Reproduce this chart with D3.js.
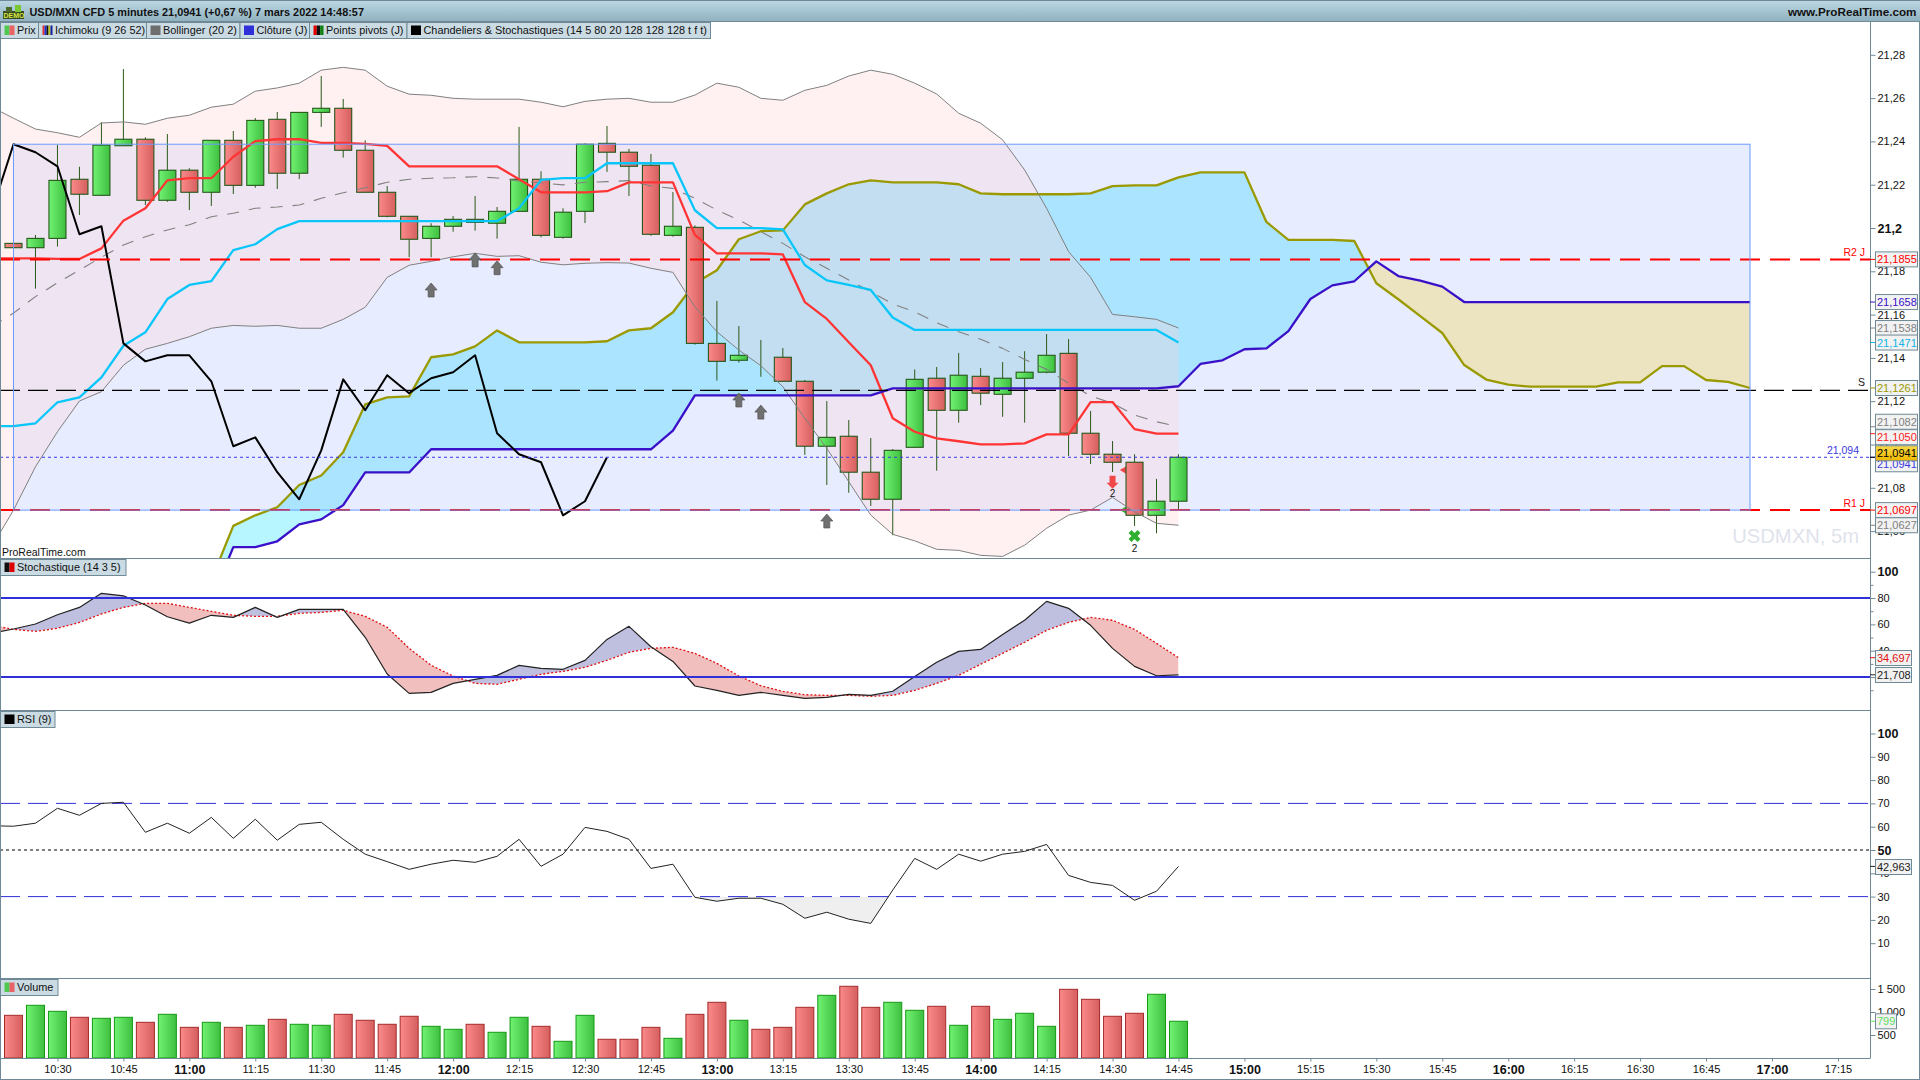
<!DOCTYPE html>
<html lang="fr">
<head>
<meta charset="UTF-8">
<title>USD/MXN CFD 5 minutes</title>
<script src="https://d3js.org/d3.v7.min.js"></script>
<style>
  html, body { margin: 0; padding: 0; background: #fff; overflow: hidden; }
  svg { display: block; font-family: "Liberation Sans", Arial, sans-serif; }
  .axis text { font-size: 11px; fill: #111; font-family: "Liberation Sans", Arial, sans-serif; }
  .axis line { stroke: #6f8a96; }
  .axis path { display: none; }
  .axis text.major { font-weight: bold; font-size: 12.5px; }
</style>
</head>
<body>
<script>
// candles, index 0 = 10:20, one bar every 5 minutes
const opens = [21.1929,21.1909,21.1952,21.2225,21.2151,21.2380,21.2410,21.2128,21.2267,21.2165,21.2405,21.2197,21.2502,21.2253,21.2534,21.2553,21.2359,21.2165,21.2054,21.1952,21.2008,21.2040,21.2022,21.2077,21.2225,21.1957,21.2077,21.2391,21.2350,21.2290,21.1966,21.2003,21.1467,21.1389,21.1412,21.1403,21.1292,21.0992,21.1038,21.0872,21.0747,21.0987,21.1306,21.1158,21.1315,21.1232,21.1306,21.1334,21.1421,21.1052,21.0955,21.0918,21.0673,21.0738];
const highs = [21.1929,21.1968,21.2383,21.2283,21.2488,21.2734,21.2419,21.2434,21.2276,21.2405,21.2448,21.2508,21.2536,21.2534,21.2702,21.2596,21.2405,21.2194,21.2054,21.2022,21.2055,21.2148,21.2097,21.2467,21.2262,21.2091,21.2391,21.2471,21.2365,21.2342,21.2166,21.2012,21.1663,21.1547,21.1483,21.1446,21.1298,21.1201,21.1113,21.1030,21.0979,21.1347,21.1358,21.1423,21.1353,21.1381,21.1431,21.1510,21.1487,21.1155,21.1016,21.0955,21.0841,21.0955];
const lows = [21.1909,21.1720,21.1914,21.2060,21.2151,21.2380,21.2106,21.2121,21.2083,21.2102,21.2157,21.2186,21.2180,21.2226,21.2467,21.2325,21.2165,21.2049,21.1865,21.1865,21.1983,21.1988,21.1951,21.2077,21.1957,21.1951,21.2023,21.2259,21.2148,21.1964,21.1960,21.1461,21.1295,21.1378,21.1313,21.1292,21.0952,21.0813,21.0777,21.0716,21.0581,21.0987,21.0879,21.1101,21.1182,21.1128,21.1101,21.1329,21.0947,21.0910,21.0873,21.0624,21.0590,21.0701];
const closes = [21.1909,21.1952,21.2220,21.2156,21.2383,21.2410,21.2128,21.2267,21.2165,21.2405,21.2197,21.2497,21.2253,21.2534,21.2553,21.2359,21.2165,21.2054,21.1948,21.2008,21.2040,21.2026,21.2077,21.2225,21.1966,21.2073,21.2387,21.2350,21.2285,21.1971,21.2008,21.1467,21.1384,21.1412,21.1412,21.1292,21.0992,21.1033,21.0872,21.0747,21.0973,21.1301,21.1158,21.1320,21.1237,21.1306,21.1334,21.1412,21.1052,21.0955,21.0918,21.0673,21.0738,21.0941];

// these start one bar before the first candle, off the left edge
const tenkan = [21.1860,21.1860,21.1860,21.1857,21.1857,21.1906,21.2034,21.2091,21.2220,21.2230,21.2230,21.2329,21.2401,21.2410,21.2410,21.2393,21.2393,21.2389,21.2379,21.2285,21.2285,21.2285,21.2285,21.2285,21.2225,21.2165,21.2165,21.2165,21.2170,21.2211,21.2211,21.2211,21.1968,21.1883,21.1883,21.1883,21.1878,21.1658,21.1580,21.1472,21.1366,21.1121,21.1059,21.1028,21.1015,21.1001,21.1001,21.1005,21.1047,21.1047,21.1196,21.1196,21.1071,21.1050,21.1050];
const kijun = [21.1085,21.1085,21.1098,21.1195,21.1218,21.1310,21.1456,21.1518,21.1672,21.1737,21.1755,21.1898,21.1925,21.1995,21.2032,21.2032,21.2032,21.2032,21.2032,21.2032,21.2032,21.2032,21.2032,21.2032,21.2091,21.2222,21.2230,21.2230,21.2299,21.2299,21.2299,21.2299,21.2082,21.1999,21.1999,21.1999,21.1994,21.1829,21.1758,21.1737,21.1714,21.1587,21.1529,21.1529,21.1529,21.1529,21.1529,21.1529,21.1529,21.1529,21.1529,21.1529,21.1529,21.1529,21.1471];
const chikou = [21.2073,21.2387,21.2350,21.2285,21.1971,21.2008,21.1467,21.1384,21.1412,21.1412,21.1292,21.0992,21.1033,21.0872,21.0747,21.0973,21.1301,21.1158,21.1320,21.1237,21.1306,21.1334,21.1412,21.1052,21.0955,21.0918,21.0673,21.0738,21.0941];
const bollUp = [21.2559,21.2507,21.2457,21.2440,21.2419,21.2485,21.2490,21.2479,21.2507,21.2521,21.2558,21.2572,21.2632,21.2647,21.2669,21.2729,21.2742,21.2729,21.2655,21.2618,21.2613,21.2599,21.2595,21.2595,21.2595,21.2581,21.2560,21.2585,21.2595,21.2599,21.2581,21.2581,21.2614,21.2669,21.2650,21.2599,21.2590,21.2636,21.2659,21.2702,21.2729,21.2710,21.2669,21.2619,21.2530,21.2484,21.2407,21.2268,21.2091,21.1891,21.1772,21.1601,21.1590,21.1578,21.1538];
const bollMid = [21.1543,21.1607,21.1683,21.1747,21.1806,21.1865,21.1921,21.1960,21.1991,21.2015,21.2052,21.2068,21.2091,21.2097,21.2106,21.2137,21.2163,21.2186,21.2211,21.2225,21.2230,21.2232,21.2237,21.2231,21.2217,21.2209,21.2199,21.2211,21.2214,21.2219,21.2194,21.2183,21.2137,21.2083,21.2037,21.1983,21.1929,21.1867,21.1814,21.1760,21.1706,21.1649,21.1613,21.1562,21.1521,21.1486,21.1444,21.1393,21.1347,21.1283,21.1224,21.1190,21.1136,21.1105,21.1082];
const bollLow = [21.0526,21.0697,21.0897,21.1059,21.1201,21.1244,21.1366,21.1440,21.1467,21.1498,21.1537,21.1550,21.1546,21.1550,21.1537,21.1537,21.1578,21.1634,21.1772,21.1828,21.1846,21.1867,21.1883,21.1869,21.1872,21.1842,21.1830,21.1837,21.1840,21.1838,21.1814,21.1795,21.1636,21.1521,21.1436,21.1364,21.1267,21.1121,21.0982,21.0828,21.0674,21.0585,21.0555,21.0516,21.0511,21.0488,21.0483,21.0535,21.0613,21.0674,21.0697,21.0756,21.0689,21.0636,21.0627];

// cloud, index 0 here = candle 9, runs 26 bars past the last candle
const senkouA = [21.0374,21.0624,21.0673,21.0710,21.0813,21.0857,21.0964,21.1185,21.1218,21.1222,21.1403,21.1416,21.1453,21.1527,21.1472,21.1472,21.1472,21.1472,21.1477,21.1527,21.1537,21.1611,21.1745,21.1805,21.1948,21.1985,21.1989,21.2109,21.2160,21.2202,21.2220,21.2211,21.2211,21.2211,21.2202,21.2160,21.2156,21.2156,21.2156,21.2156,21.2160,21.2193,21.2197,21.2197,21.2234,21.2257,21.2257,21.2257,21.2028,21.1945,21.1945,21.1945,21.1940,21.1745,21.1671,21.1593,21.1515,21.1367,21.1300,21.1277,21.1267,21.1267,21.1267,21.1267,21.1287,21.1287,21.1362,21.1362,21.1298,21.1289,21.1261];
const senkouB = [21.0281,21.0526,21.0526,21.0553,21.0631,21.0654,21.0720,21.0871,21.0871,21.0871,21.0978,21.0978,21.0978,21.0978,21.0978,21.0978,21.0978,21.0978,21.0978,21.0978,21.0978,21.1064,21.1227,21.1227,21.1227,21.1227,21.1227,21.1227,21.1227,21.1227,21.1227,21.1259,21.1259,21.1259,21.1259,21.1259,21.1259,21.1259,21.1259,21.1259,21.1259,21.1259,21.1259,21.1259,21.1269,21.1372,21.1389,21.1440,21.1444,21.1524,21.1672,21.1735,21.1754,21.1846,21.1778,21.1757,21.1729,21.1658,21.1658,21.1658,21.1658,21.1658,21.1658,21.1658,21.1658,21.1658,21.1658,21.1658,21.1658,21.1658,21.1658];

// levels
const zoneTop = 21.2387, zoneBottom = 21.0697;
const pivotR2 = 21.1855, pivotS = 21.125, pivotR1 = 21.0697, lastClose = 21.0941;

// markers: candle index, price of the arrow tip
const upArrowBars = [19, 21, 22, 33, 34, 37];
const upArrowTips = [21.1746, 21.1885, 21.1849, 21.1238, 21.1182, 21.0679];

// stochastic and RSI, start one bar before the first candle
const stochK = [53.2,56.5,60.3,67.3,72.9,83.6,81.7,74.7,65.8,61,66.9,65.3,72.9,65.3,71.4,71.4,71.4,50.2,22.3,7.6,8.4,15.2,18.3,21.3,28.9,26.6,25.9,32.7,48.6,58.5,43,31.9,13.2,9.9,6.1,8.4,6.1,3.8,4.6,6.9,6.1,9.2,20.5,31.2,39.5,41,52.4,63.1,77.5,72.2,59.3,41.8,28.1,21,21.7];
const stochD = [59.3,56.2,54.7,57,61.5,67.9,72.9,76,76,72.9,69.9,66.9,66.1,66.1,68.4,69.1,70.7,66.1,57.8,41.8,28.9,20.8,15.2,14.5,18.3,22.1,24.3,27.4,32.7,38.8,41.8,42.6,38,30.4,20.8,13.4,9.2,6.6,6.1,6.1,5.4,6.1,9.9,15.2,21.3,29.7,38,46.4,55.5,61.5,65.3,63.1,56.2,45.6,34.7];
const rsi = [60.4,60.2,61.5,67.9,64.9,70,70.5,57.6,61.5,57.2,64,55,63.2,54.2,61,61.9,54.6,48.2,45,41.7,43.9,45.6,44.7,47.3,54.6,43,48.2,59.7,58,54.6,42.1,43.9,29.7,28,29.3,29.3,26.7,20.7,23.3,20.3,18.5,32.8,46.4,41.7,48.2,45.2,48.2,49.4,52.4,39.1,36.1,34.8,28.4,32.3,42.96];

// volume, colour follows the candle
const volumes = [928,1146,1015,885,863,885,776,950,667,776,667,711,841,733,711,950,820,733,907,689,624,733,559,885,689,363,928,407,407,667,428,950,1211,820,624,667,1102,1363,1559,1102,1211,1037,1124,711,1124,841,972,689,1493,1276,907,972,1385,799];

// ticks
const priceTicks = [21.28,21.26,21.24,21.22,21.2,21.18,21.16,21.14,21.12,21.1,21.08,21.06];
const stochTicks = [100,80,60,40,20];
const stochMinor = [90,70,50,30,10];
const rsiTicks = [100,90,80,70,60,50,40,30,20,10];
const volTicks = [1500,1000,500];
const volTickLabels = ["1 500","1 000","500"];
const timeLabels = ["10:30","10:45","11:00","11:15","11:30","11:45","12:00","12:15","12:30","12:45","13:00","13:15","13:30","13:45","14:00","14:15","14:30","14:45","15:00","15:15","15:30","15:45","16:00","16:15","16:30","16:45","17:00","17:15"];

// value tags on the price axis
const tagValues = [21.1855,21.1658,21.1538,21.1471,21.1261,21.1082,21.1050,21.0941,21.0941,21.0697,21.0627];
const tagTexts = ["21,1855","21,1658","21,1538","21,1471","21,1261","21,1082","21,1050","21,0941","21,0941","21,0697","21,0627"];
const tagColors = ["#ff0000","#3a10c8","#808080","#12b4e6","#9a9a00","#808080","#ff2020","#3a3ae0","#000000","#ff0000","#808080"];
const tagShift = [0,0,0,0,0,-5,3.5,7,-4,0,0];

const W = 1920, H = 1080, axisX = 1870;
const border = "#6f8a96";

const svg = d3.select("body").append("svg").attr("width", W).attr("height", H);
const defs = svg.append("defs");

function gradient(id, from, to, vertical) {
  const g = defs.append("linearGradient").attr("id", id)
    .attr("x1", 0).attr("y1", 0).attr("x2", vertical ? 0 : 1).attr("y2", vertical ? 1 : 0);
  g.append("stop").attr("offset", "0%").attr("stop-color", from);
  g.append("stop").attr("offset", "100%").attr("stop-color", to);
}
gradient("redBar", "#fb8a8a", "#d65f5f");
gradient("greenBar", "#72f272", "#3fbf3f");
gradient("head", "#bcd8e4", "#8fb0be", true);
gradient("yellowTag", "#f9d84a", "#eeb800", true);

function clipRect(id, x, y, w, h) {
  defs.append("clipPath").attr("id", id).append("rect")
    .attr("x", x).attr("y", y).attr("width", w).attr("height", h);
}
clipRect("mainClip", 0, 22, axisX, 536);

// scales
const x = d3.scaleLinear().domain([0, 79]).range([13.5, 1750]);
const yP = d3.scaleLinear().domain([21.06, 21.28]).range([531.1, 54.8]);
const yS = d3.scaleLinear().domain([0, 100]).range([703.4, 571.7]);
const yR = d3.scaleLinear().domain([0, 100]).range([966.5, 733.5]);
const yV = d3.scaleLinear().domain([0, 1500]).range([1058, 989]);

const lineOf = (values, start, yScale) => d3.line()
  .x((d, i) => x(i + start)).y(d => yScale(d))(values);

const barsFrom = (n, start) => d3.range(n).map(i => i + start);

// fill between two series, coloured by which one is on top
function bandFill(g, id, idx, a, b, yScale, top, bottom, aboveColor, belowColor) {
  const xi = i => x(idx[i]);
  const band = d3.area().x((d, i) => xi(i)).y0((d, i) => yScale(a[i])).y1((d, i) => yScale(b[i]));
  const toTop = d3.area().x((d, i) => xi(i)).y0(top).y1((d, i) => yScale(b[i]));
  const toBottom = d3.area().x((d, i) => xi(i)).y0(bottom).y1((d, i) => yScale(b[i]));
  if (aboveColor) {
    defs.append("clipPath").attr("id", id + "A").append("path").attr("d", toTop(idx));
    g.append("path").attr("d", band(idx)).attr("fill", aboveColor).attr("clip-path", `url(#${id}A)`);
  }
  if (belowColor) {
    defs.append("clipPath").attr("id", id + "B").append("path").attr("d", toBottom(idx));
    g.append("path").attr("d", band(idx)).attr("fill", belowColor).attr("clip-path", `url(#${id}B)`);
  }
}

function path(g, d, color, width, dash) {
  return g.append("path").attr("d", d).attr("fill", "none")
    .attr("stroke", color).attr("stroke-width", width)
    .attr("stroke-dasharray", dash || null).attr("stroke-linejoin", "round");
}

function hline(g, y, x1, x2, color, width, dash) {
  g.append("line").attr("x1", x1).attr("x2", x2).attr("y1", y).attr("y2", y)
    .attr("stroke", color).attr("stroke-width", width).attr("stroke-dasharray", dash || null);
}

/* ---------- price panel ---------- */
const main = svg.append("g").attr("clip-path", "url(#mainClip)");
const cloudIdx = barsFrom(senkouA.length, 9);

bandFill(main, "cloudCyan", cloudIdx, senkouA, senkouB, yP, 0, 700, "#b8f6ff", null);

main.append("rect").attr("x", x(0)).attr("width", x(79) - x(0))
  .attr("y", yP(zoneTop)).attr("height", yP(zoneBottom) - yP(zoneTop))
  .attr("fill", "rgb(100,130,255)").attr("fill-opacity", 0.15);

bandFill(main, "cloudSand", cloudIdx, senkouA, senkouB, yP, 0, 700, null, "#ece4c0");

const bollIdx = barsFrom(bollUp.length, -1);
main.append("path").attr("d", d3.area()
    .x(d => x(d)).y0(d => yP(bollUp[d + 1])).y1(d => yP(bollLow[d + 1]))(bollIdx))
  .attr("fill", "rgb(255,208,208)").attr("fill-opacity", 0.3);

// small signals half hidden behind the candle
main.append("path").attr("d", d3.symbol(d3.symbolTriangle, 30)())
  .attr("transform", `translate(${x(51) - 10},${yP(21.0882)}) rotate(-90)`).attr("fill", "#f04848");
main.append("path").attr("d", d3.symbol(d3.symbolTriangle, 30)())
  .attr("transform", `translate(${x(51) - 10},${yP(21.0697)}) rotate(-90)`).attr("fill", "#30b030");

path(main, lineOf(senkouA, 9, yP), "#9a9a00", 2.3);

// candles
const candles = main.append("g").selectAll("g").data(opens).enter().append("g");
candles.append("line")
  .attr("x1", (d, i) => x(i)).attr("x2", (d, i) => x(i))
  .attr("y1", (d, i) => yP(highs[i])).attr("y2", (d, i) => yP(lows[i]))
  .attr("stroke", "#2a5a1a").attr("stroke-width", 1);
candles.append("rect")
  .attr("x", (d, i) => x(i) - 8.5).attr("width", 17)
  .attr("y", (d, i) => yP(Math.max(opens[i], closes[i])))
  .attr("height", (d, i) => Math.abs(yP(opens[i]) - yP(closes[i])))
  .attr("fill", (d, i) => closes[i] > opens[i] ? "url(#greenBar)" : "url(#redBar)")
  .attr("stroke", "#24581a").attr("stroke-width", 1.1);

// Bollinger
path(main, lineOf(bollUp, -1, yP), "#808080", 1);
path(main, lineOf(bollLow, -1, yP), "#808080", 1);
path(main, lineOf(bollMid, -1, yP), "#808080", 1.1, "12 10");

path(main, lineOf(tenkan, -1, yP), "#ff3434", 2.3);
path(main, lineOf(kijun, -1, yP), "#08c6fa", 2.3);
path(main, lineOf(senkouB, 9, yP), "#3a10c8", 2.3);
path(main, lineOf(chikou, -1, yP), "#000", 2);

// pivot levels
hline(main, yP(pivotR2), 0, axisX, "#ff0000", 2, "20 10");
hline(main, yP(pivotS), 0, axisX, "#000", 1.3, "20 8");
hline(main, yP(pivotR1), 0, axisX, "#ff0000", 2, "20 10");
hline(main, yP(lastClose), 0, axisX, "#3a3ae0", 1, "3 3");

main.append("rect").attr("x", x(0)).attr("width", x(79) - x(0))
  .attr("y", yP(zoneTop)).attr("height", yP(zoneBottom) - yP(zoneTop))
  .attr("fill", "none").attr("stroke", "#6a9bff").attr("stroke-width", 1);

// arrows
const upArrow = "M0 0L6 7L3 7L3 14L-3 14L-3 7L-6 7Z";
main.append("g").selectAll("path").data(upArrowBars).enter().append("path")
  .attr("d", upArrow)
  .attr("transform", (d, i) => `translate(${x(d)},${yP(upArrowTips[i])})`)
  .attr("fill", "#707070").attr("stroke", "#555").attr("stroke-width", 0.7);
main.append("path").attr("d", "M0 0L-6 -6L-3 -6L-3 -13L3 -13L3 -6L6 -6Z")
  .attr("transform", `translate(${x(50)},${yP(21.0796)})`).attr("fill", "#f04848");
main.append("path").attr("d", d3.symbol(d3.symbolCross, 90)())
  .attr("transform", `translate(${x(51)},${yP(21.0577)}) rotate(45)`).attr("fill", "#30b030");

function label(g, tx, ty, text, size, color, anchor, weight) {
  return g.append("text").attr("x", tx).attr("y", ty).text(text)
    .attr("font-size", size).attr("fill", color)
    .attr("text-anchor", anchor || "start").attr("font-weight", weight || null);
}
label(main, x(50), 497, "2", 10, "#111", "middle");
label(main, x(51), 552, "2", 10, "#111", "middle");
label(main, 2, 556, "ProRealTime.com", 10.5, "#111");
label(main, 1859, 543, "USDMXN, 5m", 20.2, "#dfe3ec", "end");
label(main, 1865, yP(pivotR2) - 3, "R2 J", 10.5, "#ff0000", "end");
label(main, 1865, yP(pivotS) - 4, "S", 10.5, "#111", "end");
label(main, 1865, yP(pivotR1) - 3, "R1 J", 10.5, "#ff0000", "end");
label(main, 1859, yP(lastClose) - 3, "21,094", 10.5, "#3a3ae0", "end");

/* ---------- stochastic ---------- */
const stoch = svg.append("g");
const subIdx = barsFrom(stochK.length, -1);
clipRect("subClip", 0, 558, axisX, 520);
const stochG = stoch.append("g").attr("clip-path", "url(#subClip)");
bandFill(stochG, "stochFill", subIdx, stochK, stochD, yS, 558, 710, "#bfc0e0", "#f2bfbf");
hline(stoch, yS(80), 0, axisX, "#3030d8", 2);
hline(stoch, yS(20), 0, axisX, "#3030d8", 2);
path(stochG, lineOf(stochD, -1, yS), "#e01010", 1.3, "2 2");
path(stochG, lineOf(stochK, -1, yS), "#222", 1.2);

/* ---------- RSI ---------- */
const rsiG = svg.append("g").attr("clip-path", "url(#subClip)");
clipRect("rsiLow", 0, yR(30), axisX, 100);
rsiG.append("g").attr("clip-path", "url(#rsiLow)").append("path")
  .attr("d", d3.area().x(d => x(d)).y0(yR(30)).y1(d => yR(rsi[d + 1]))(subIdx))
  .attr("fill", "#efefef");
hline(rsiG, yR(70), 0, axisX, "#3030d8", 1, "20 8");
hline(rsiG, yR(30), 0, axisX, "#3030d8", 1, "20 8");
hline(rsiG, yR(50), 0, axisX, "#000", 1, "3 3");
path(rsiG, lineOf(rsi, -1, yR), "#222", 1);

/* ---------- volume ---------- */
svg.append("g").selectAll("rect").data(volumes).enter().append("rect")
  .attr("x", (d, i) => x(i) - 9).attr("width", 18)
  .attr("y", d => yV(d)).attr("height", d => yV(0) - yV(d))
  .attr("fill", (d, i) => closes[i] > opens[i] ? "url(#greenBar)" : "url(#redBar)")
  .attr("stroke", (d, i) => closes[i] > opens[i] ? "#159a15" : "#a52a2a");

/* ---------- frame and panel separators ---------- */
[558.5, 710.5, 978.5, 1058.5].forEach(y => hline(svg, y, 0, axisX, border, 1));
hline(svg, 1079.5, 0, W, border, 1);
svg.append("line").attr("x1", axisX + 0.5).attr("x2", axisX + 0.5).attr("y1", 22).attr("y2", 1058.5).attr("stroke", border);
svg.append("line").attr("x1", 0.5).attr("x2", 0.5).attr("y1", 22).attr("y2", H).attr("stroke", border);
svg.append("line").attr("x1", W - 0.5).attr("x2", W - 0.5).attr("y1", 22).attr("y2", H).attr("stroke", border);

/* ---------- axes ---------- */
const comma = d => String(d).replace(".", ",");

function rightAxis(scale, ticks, format, majors) {
  const a = svg.append("g").attr("class", "axis").attr("transform", `translate(${axisX + 0.5},0)`)
    .call(d3.axisRight(scale).tickValues(ticks).tickFormat(format).tickSize(5).tickPadding(2).tickSizeOuter(0));
  a.selectAll(".tick text").classed("major", d => majors.includes(d));
  return a;
}
rightAxis(yP, priceTicks, comma, [21.2]);
rightAxis(yS, stochTicks, d => d, [100]);
svg.append("g").attr("class", "axis").attr("transform", `translate(${axisX + 0.5},0)`)
  .call(d3.axisRight(yS).tickValues(stochMinor).tickFormat("").tickSize(3).tickSizeOuter(0));
rightAxis(yR, rsiTicks, d => d, [100, 50]);
rightAxis(yV, volTicks, (d, i) => volTickLabels[i], []);

const timeBars = timeLabels.map((d, i) => 2 + 3 * i);
const xAxis = svg.append("g").attr("class", "axis").attr("transform", "translate(0,1058.5)")
  .call(d3.axisBottom(x).tickValues(timeBars).tickFormat((d, i) => timeLabels[i]).tickSize(3).tickPadding(4).tickSizeOuter(0));
xAxis.selectAll(".tick text").classed("major", (d, i) => timeLabels[i].endsWith(":00"));

/* ---------- value tags ---------- */
function tag(yTick, yBox, text, color, width, fill) {
  svg.append("line").attr("x1", axisX).attr("x2", axisX + 6).attr("y1", yTick).attr("y2", yTick).attr("stroke", color);
  svg.append("rect").attr("x", axisX + 5.5).attr("y", yBox - 7.5).attr("width", width).attr("height", 15)
    .attr("fill", fill || "#f2f2f2").attr("stroke", border);
  label(svg, axisX + 7, yBox + 4, text, 11, color === "#000000" ? "#000" : color);
}
tagValues.forEach((v, i) => {
  tag(yP(v), yP(v) + tagShift[i], tagTexts[i], tagColors[i], 42, i === 8 ? "url(#yellowTag)" : null);
});
tag(yS(stochD[54]), 658, "34,697", "#e01010", 36);
tag(yS(stochK[54]), 675, "21,708", "#222222", 36);
tag(yR(rsi[54]), 867, "42,963", "#222222", 36);
tag(yV(volumes[53]), 1021.3, "799", "#60dd60", 21);

/* ---------- header ---------- */
svg.append("rect").attr("width", W).attr("height", 22).attr("fill", "url(#head)");
hline(svg, 0.5, 0, W, border, 1);
hline(svg, 21.5, 0, W, border, 1);
svg.append("rect").attr("x", 3).attr("y", 11).attr("width", 21).attr("height", 8).attr("fill", "#3a4a22");
svg.append("rect").attr("x", 6).attr("y", 7).attr("width", 6).attr("height", 5).attr("fill", "#4c6a2a");
svg.append("rect").attr("x", 15).attr("y", 5).attr("width", 6).attr("height", 7).attr("fill", "#7cc830");
label(svg, 3.5, 18, "DEMO", 7, "#d8e840", "start", "bold");
label(svg, 29.5, 16, "USD/MXN CFD 5 minutes 21,0941 (+0,67 %) 7 mars 2022 14:48:57", 10.9, "#111", "start", "bold");
label(svg, 1916.5, 16, "www.ProRealTime.com", 11.7, "#111", "end", "bold");

/* ---------- legends ---------- */
function legend(x0, x1, y0, y1, text, colors) {
  svg.append("rect").attr("x", x0 + 0.5).attr("y", y0 + 0.5).attr("width", x1 - x0).attr("height", y1 - y0)
    .attr("fill", "#cbdbe4").attr("stroke", border);
  const w = 10 / colors.length;
  colors.forEach((c, i) => svg.append("rect")
    .attr("x", x0 + 4.5 + i * w).attr("y", y0 + 3.5).attr("width", w).attr("height", y1 - y0 - 6.5).attr("fill", c));
  label(svg, x0 + 17, y1 - 4.5, text, 10.9, "#111");
}
legend(0, 38, 22, 38, "Prix", ["#50c850", "#e86464"]);
legend(38, 146, 22, 38, "Ichimoku (9 26 52)", ["#e03030", "#2030d0", "#101010", "#c0c020", "#1020a0"]);
legend(146, 239.5, 22, 38, "Bollinger (20 2)", ["#6e6e6e"]);
legend(239.5, 309, 22, 38, "Clôture (J)", ["#3030d8"]);
legend(309, 406.5, 22, 38, "Points pivots (J)", ["#e00000", "#101010", "#108010"]);
legend(406.5, 710, 22, 38, "Chandeliers & Stochastiques (14 5 80 20 128 128 128 t f t)", ["#000"]);
legend(0, 125.5, 559, 575, "Stochastique (14 3 5)", ["#101010", "#e00000"]);
legend(0, 54.5, 711, 727, "RSI (9)", ["#000"]);
legend(0, 57.5, 979, 995, "Volume", ["#50c850", "#e86464"]);
</script>
</body>
</html>
